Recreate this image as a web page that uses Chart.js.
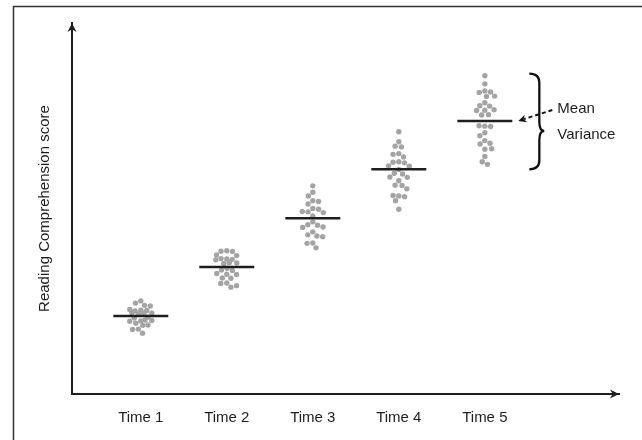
<!DOCTYPE html>
<html>
<head>
<meta charset="utf-8">
<script src="https://cdn.jsdelivr.net/npm/chart.js@4"></script>
<style>
  body { margin: 0; background: #fff; }
  canvas { display: block; }
</style>
</head>
<body>
<canvas id="myChart" width="642" height="440"></canvas>
<script>
const timeLabels = ['Time 1', 'Time 2', 'Time 3', 'Time 4', 'Time 5'];
const meanScores = [21.0, 34.2, 47.4, 60.6, 73.6];

const time1Scores = [25.1, 24.5, 23.9, 23.7, 22.6, 22.4, 22.8, 22.5, 21.8, 21.9, 21.7, 21.6,
   20.7, 20.5, 19.7, 19.8, 19.6, 19.9, 19.1, 18.6, 18.5, 17.5, 17.4, 16.4];
const time2Scores = [38.6, 38.5, 38.4, 37.5, 37.3, 36.4, 36.5, 36.3, 36.2, 35.3, 35.2, 35.4,
   33.9, 33.4, 33.3, 32.3, 32.5, 32.2, 31.3, 31.2, 29.9, 29.8, 28.8, 29.2];
const time3Scores = [56.1, 54.4, 53.4, 52.1, 51.9, 51.2, 50.0, 49.8, 49.1, 49.2, 48.9, 48.0,
   46.4, 45.6, 45.5, 45.0, 44.9, 43.7, 42.9, 42.6, 42.4, 40.7, 40.6, 39.4];
const time4Scores = [70.7, 68.0, 66.8, 66.6, 64.8, 64.6, 63.9, 62.6, 62.5, 62.3, 61.5, 61.4,
   60.5, 59.5, 59.3, 58.4, 58.5, 57.5, 56.3, 56.2, 55.3, 53.4, 53.5, 53.2, 52.1, 49.8];
const time5Scores = [85.8, 83.6, 81.7, 81.3, 81.4, 80.3, 80.2, 78.5, 77.7, 77.6, 76.5, 76.4,
   76.6, 75.2, 75.3, 72.2, 72.3, 72.1, 70.4, 69.6, 68.3, 67.4, 67.6, 66.0, 66.1, 64.0, 62.6, 61.9];

const allScores = [time1Scores, time2Scores, time3Scores, time4Scores, time5Scores];
const yTitle = 'Reading Comprehension score';

const INK = '#1e1e1e';
const DOT = '#a4a4a4';
const LINE_HALF = 27.5;

Chart.defaults.font.family = '"Liberation Sans", Arial, sans-serif';
Chart.defaults.font.size = 15;
Chart.defaults.color = INK;

function dotPoints() {
   const pts = [];
   allScores.forEach((scores, i) => {
      scores.forEach((s) => pts.push({ x: i + 1, y: s }));
   });
   return pts;
}

// greedy beeswarm kept inside a narrow band, done in pixels then mapped back to data units
function swarm(chart) {
   const xs = chart.scales.x;
   const ys = chart.scales.y;
   const minDist = 5.8;
   const maxHalf = 11;
   const pts = [];
   allScores.forEach((scores, i) => {
      const cx = xs.getPixelForValue(i + 1);
      const placed = [];
      scores.forEach((s) => {
         const py = ys.getPixelForValue(s);
         const near = placed.filter((q) => Math.abs(q.y - py) < minDist);
         const gap = (c) => Math.min(Infinity, ...near.map((q) => Math.hypot(q.x - c, q.y - py)));
         const cands = [0];
         near.forEach((q) => {
            const w = Math.sqrt(minDist * minDist - (q.y - py) ** 2);
            cands.push(q.x - w, q.x + w);
         });
         cands.sort((a, b) => Math.abs(a) - Math.abs(b));
         let dx = cands.find((c) => Math.abs(c) <= maxHalf && gap(c) >= minDist - 0.01);
         if (dx === undefined) {
            // band is full here: take the least crowded spot inside it
            dx = 0;
            for (let c = -maxHalf; c <= maxHalf; c += 0.5) {
               if (gap(c) > gap(dx)) dx = c;
            }
         }
         placed.push({ x: dx, y: py });
         pts.push({ x: xs.getValueForPixel(cx + dx), y: s });
      });
   });
   chart.data.datasets[1].data = pts;
}

function arrowHead(ctx, x, y, angle, len, half) {
   ctx.save();
   ctx.translate(x, y);
   ctx.rotate(angle);
   ctx.beginPath();
   ctx.moveTo(0, 0);
   ctx.lineTo(-len, -half);
   ctx.lineTo(-len * 0.7, 0);
   ctx.lineTo(-len, half);
   ctx.closePath();
   ctx.fill();
   ctx.restore();
}

const decorations = {
   id: 'decorations',
   afterDraw(chart) {
      const { ctx, chartArea: a, scales } = chart;
      ctx.save();
      ctx.strokeStyle = '#333';
      ctx.fillStyle = INK;

      // figure frame (left + top edges)
      ctx.lineWidth = 1.5;
      ctx.beginPath();
      ctx.moveTo(13.5, chart.height);
      ctx.lineTo(13.5, 6.5);
      ctx.lineTo(chart.width, 6.5);
      ctx.stroke();

      // axis arrows
      arrowHead(ctx, a.left, a.top, -Math.PI / 2, 9, 4.5);
      arrowHead(ctx, a.right, a.bottom, 0, 9, 4.5);

      // mean / variance annotation on last group
      const last = allScores.length - 1;
      const mx = scales.x.getPixelForValue(last + 1) + LINE_HALF;
      const my = scales.y.getPixelForValue(meanScores[last]);
      const top = scales.y.getPixelForValue(Math.max(...allScores[last])) - 2;
      const bottom = scales.y.getPixelForValue(Math.min(...allScores[last])) + 5;
      const tipY = my + 10;
      const x0 = mx + 17;
      const bx = x0 + 10;
      const tx = x0 + 15;
      const r = 9;

      ctx.strokeStyle = '#111';
      ctx.lineWidth = 2.3;
      ctx.beginPath();
      ctx.moveTo(x0, top);
      ctx.quadraticCurveTo(bx, top, bx, top + r);
      ctx.lineTo(bx, tipY - r);
      ctx.quadraticCurveTo(bx, tipY, tx, tipY);
      ctx.quadraticCurveTo(bx, tipY, bx, tipY + r);
      ctx.lineTo(bx, bottom - r);
      ctx.quadraticCurveTo(bx, bottom, x0, bottom);
      ctx.stroke();

      // dashed pointer to the mean line
      const ax = mx + 6;
      const tailX = mx + 40;
      const tailY = my - 11;
      const ang = Math.atan2(my - tailY, ax - tailX);
      ctx.lineWidth = 2;
      ctx.setLineDash([4, 3]);
      ctx.beginPath();
      ctx.moveTo(tailX, tailY);
      ctx.lineTo(ax - Math.cos(ang) * 6, my - Math.sin(ang) * 6);
      ctx.stroke();
      ctx.setLineDash([]);
      ctx.fillStyle = '#111';
      arrowHead(ctx, ax, my, ang, 8, 4);

      ctx.fillStyle = INK;
      ctx.font = '15px "Liberation Sans", Arial, sans-serif';
      ctx.textBaseline = 'middle';
      ctx.textAlign = 'left';
      ctx.fillText('Mean', mx + 45, my - 12);
      ctx.fillText('Variance', mx + 45, my + 14);
      ctx.restore();
   },
};

const ctx = document.getElementById('myChart').getContext('2d');
const chart = new Chart(ctx, {
   type: 'scatter',
   data: {
      datasets: [
         {
            data: meanScores.map((m, i) => ({ x: i + 1, y: m })),
            pointStyle: 'line',
            pointRadius: LINE_HALF,
            pointHoverRadius: LINE_HALF,
            borderColor: INK,
            borderWidth: 2.5,
         },
         {
            data: dotPoints(),
            pointRadius: 2.7,
            pointHoverRadius: 2.7,
            backgroundColor: DOT,
            borderWidth: 0,
         },
      ],
   },
   options: {
      responsive: false,
      animation: false,
      events: [],
      layout: { autoPadding: false, padding: { top: 23, right: 23, left: 0, bottom: 0 } },
      plugins: {
         legend: { display: false },
         tooltip: { enabled: false },
      },
      scales: {
         x: {
            type: 'linear',
            min: 0.2,
            max: 6.56,
            grid: { display: false },
            border: { display: true, color: INK, width: 2 },
            afterBuildTicks: (s) => {
               s.ticks = timeLabels.map((_, i) => ({ value: i + 1 }));
            },
            ticks: {
               padding: 7,
               color: INK,
               font: { size: 15 },
               callback: (v, i) => timeLabels[i],
            },
            afterFit: (s) => {
               s.height = 46;
            },
         },
         y: {
            min: 0,
            max: 100,
            grid: { display: false },
            border: { display: true, color: INK, width: 2 },
            ticks: { display: false },
            title: {
               display: true,
               text: yTitle,
               color: INK,
               font: { size: 15 },
               padding: { top: 36, bottom: 0 },
            },
            afterFit: (s) => {
               s.width = 72;
            },
         },
      },
   },
   plugins: [decorations],
});

swarm(chart);
chart.update('none');
</script>
</body>
</html>
